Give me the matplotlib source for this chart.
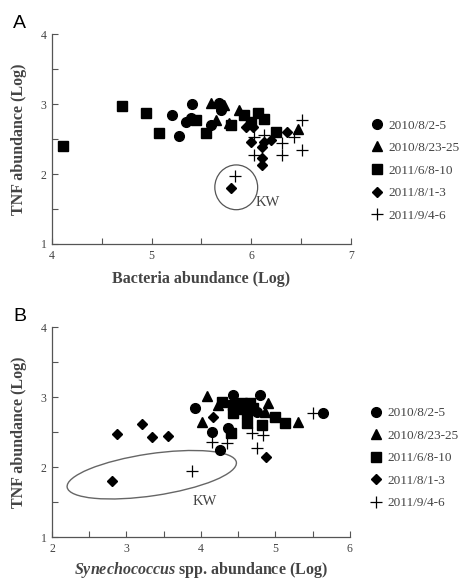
import matplotlib
matplotlib.use('Agg')
import matplotlib.pyplot as plt
from matplotlib.patches import Ellipse

plt.rcParams['font.family'] = ['Liberation Serif', 'DejaVu Serif']
plt.rcParams['mathtext.fontset'] = 'custom'
plt.rcParams['mathtext.bfit'] = 'Liberation Serif:italic:bold'
plt.rcParams['mathtext.it'] = 'Liberation Serif:italic'
plt.rcParams['mathtext.rm'] = 'Liberation Serif'
plt.rcParams['mathtext.bf'] = 'Liberation Serif:bold'

labels = ['2010/8/2-5', '2010/8/23-25', '2011/6/8-10', '2011/8/1-3', '2011/9/4-6']

# Panel A: bacteria vs TNF (log)
a_circ_x = [5.21, 5.28, 5.41, 5.35, 5.60, 5.68, 5.70, 5.40]
a_circ_y = [2.84, 2.54, 3.00, 2.74, 2.70, 3.01, 2.91, 2.80]
a_tri_x = [5.60, 5.65, 5.78, 5.88, 6.47, 5.73]
a_tri_y = [3.01, 2.77, 2.73, 2.91, 2.64, 2.98]
a_sq_x = [4.11, 4.70, 4.94, 5.07, 5.45, 5.55, 5.80, 5.93, 6.07, 6.13, 6.25, 6.00]
a_sq_y = [2.40, 2.97, 2.87, 2.59, 2.77, 2.58, 2.70, 2.85, 2.87, 2.78, 2.60, 2.75]
a_dia_x = [5.80, 5.95, 6.02, 6.00, 6.13, 6.20, 6.11, 6.11, 6.11, 6.36]
a_dia_y = [1.80, 2.67, 2.67, 2.46, 2.46, 2.49, 2.39, 2.23, 2.13, 2.60]
a_plus_x = [5.84, 6.03, 6.13, 6.03, 6.31, 6.31, 6.51, 6.43, 6.51]
a_plus_y = [1.97, 2.53, 2.56, 2.27, 2.44, 2.27, 2.34, 2.53, 2.77]

# Panel B: Synechococcus vs TNF (log)
b_circ_x = [3.92, 4.15, 4.25, 4.36, 4.43, 4.79, 4.75, 5.64, 4.50]
b_circ_y = [2.84, 2.50, 2.24, 2.56, 3.03, 3.03, 2.79, 2.77, 2.85]
b_tri_x = [4.08, 4.01, 4.23, 4.90, 4.86, 5.30]
b_tri_y = [3.02, 2.64, 2.89, 2.91, 2.79, 2.64]
b_sq_x = [4.28, 4.43, 4.55, 4.66, 4.43, 4.62, 4.62, 4.99, 5.13, 4.82, 4.41, 4.55, 4.70]
b_sq_y = [2.93, 2.89, 2.91, 2.91, 2.77, 2.77, 2.63, 2.71, 2.63, 2.60, 2.49, 2.83, 2.85]
b_dia_x = [2.80, 2.87, 3.21, 3.34, 3.56, 4.16, 4.88]
b_dia_y = [1.80, 2.47, 2.61, 2.43, 2.44, 2.71, 2.14]
b_plus_x = [3.88, 4.15, 4.35, 4.69, 4.83, 4.75, 5.51]
b_plus_y = [1.94, 2.36, 2.34, 2.49, 2.46, 2.27, 2.77]

fig = plt.figure(figsize=(4.64, 5.83), dpi=100)
axA = fig.add_axes([0.112, 0.5815, 0.644, 0.360])
axB = fig.add_axes([0.112, 0.0789, 0.642, 0.360])

grey = '#444444'


def draw(ax, series):
    styles = [dict(marker='o', ms=7), dict(marker='^', ms=7),
              dict(marker='s', ms=7), dict(marker='D', ms=4.8),
              dict(marker='+', ms=8.5, mew=0.9)]
    for (xs, ys), st, lab in zip(series, styles, labels):
        ax.plot(xs, ys, ls='none', color='black', label=lab, **st)


def style(ax, xlim, xminor, leg_y):
    ax.set_xlim(*xlim)
    ax.set_ylim(1, 4)
    ax.set_xticks(range(xlim[0], xlim[1] + 1))
    ax.set_xticks(xminor, minor=True)
    ax.set_yticks([1, 2, 3, 4])
    ax.set_yticks([1.5, 2.5, 3.5], minor=True)
    for s in ['top', 'right']:
        ax.spines[s].set_visible(False)
    for s in ['left', 'bottom']:
        ax.spines[s].set_color('#555555')
        ax.spines[s].set_linewidth(0.9)
    ax.tick_params(which='both', direction='in', length=4, width=0.8,
                   colors='#555555', labelsize=8.5, labelcolor=grey, pad=4)
    ax.set_ylabel('TNF abundance (Log)', fontsize=11.5, fontweight='bold',
                  color=grey, labelpad=10)
    leg = ax.legend(loc='center left', bbox_to_anchor=(1.03, leg_y),
                    frameon=False, fontsize=9.5, handlelength=0.8,
                    handletextpad=0.5, labelspacing=0.78)
    for t in leg.get_texts():
        t.set_color(grey)


draw(axA, [(a_circ_x, a_circ_y), (a_tri_x, a_tri_y), (a_sq_x, a_sq_y),
           (a_dia_x, a_dia_y), (a_plus_x, a_plus_y)])
style(axA, (4, 7), [4.5, 5.5, 6.5], 0.35)
axA.set_xlabel('Bacteria abundance (Log)', fontsize=11.5, fontweight='bold',
               color=grey, labelpad=7)
axA.add_patch(Ellipse((5.85, 1.81), 0.43, 0.64, fill=False,
                      edgecolor='#555555', lw=0.9))
axA.text(6.17, 1.59, 'KW', fontsize=10.5, color=grey, ha='center', va='center')
axA.text(-0.13, 1.01, 'A', transform=axA.transAxes, fontsize=14,
         family='Liberation Sans', va='bottom')

draw(axB, [(b_circ_x, b_circ_y), (b_tri_x, b_tri_y), (b_sq_x, b_sq_y),
           (b_dia_x, b_dia_y), (b_plus_x, b_plus_y)])
style(axB, (2, 6), [2.5, 3.5, 4.5, 5.5], 0.375)
axB.set_xlabel(r'$\mathbfit{Synechococcus}$ spp. abundance (Log)', fontsize=11.5,
               fontweight='bold', color=grey, labelpad=4)
axB.add_patch(Ellipse((3.34, 1.89), 2.3, 0.6, angle=9, fill=False,
                      edgecolor='#666666', lw=1.0))
axB.text(4.05, 1.51, 'KW', fontsize=10.5, color=grey, ha='center', va='center')
axB.text(-0.13, 1.01, 'B', transform=axB.transAxes, fontsize=14,
         family='Liberation Sans', va='bottom')

fig.savefig('out.png', dpi=100)
